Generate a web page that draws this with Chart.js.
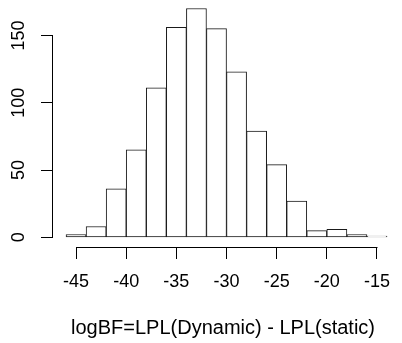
<!DOCTYPE html>
<html lang="en">
<head>
    <meta charset="UTF-8">
    <title>logBF histogram</title>
    <script src="https://cdn.jsdelivr.net/npm/chart.js"></script>
    <style>
        html, body { margin: 0; padding: 0; background: #fff; }
        .chart-container { position: relative; width: 402px; height: 343px; }
    </style>
</head>
<body>
    <div class="chart-container">
        <canvas id="myChart"></canvas>
    </div>

    <script>
        // Histogram bins (left edges, width 2) and counts
        const binStarts = [-46, -44, -42, -40, -38, -36, -34, -32, -30, -28, -26, -24, -22, -20, -18, -16];
        const binWidth = 2;
        const counts = [2, 8, 36, 65, 111, 156, 170, 155, 123, 79, 54, 27, 5, 6, 2, 1];
        const xTicks = [-45, -40, -35, -30, -25, -20, -15];
        const yTicks = [0, 50, 100, 150];
        const xTitle = 'logBF=LPL(Dynamic) - LPL(static)';

        const FONT = "'Liberation Sans', Arial, Helvetica, sans-serif";

        document.addEventListener('DOMContentLoaded', () => {
            const ctx = document.getElementById('myChart').getContext('2d');

            const points = binStarts.map((s, i) => ({ x: s + binWidth / 2, y: counts[i] }));

            // R style axes: lines only span the tick range, y labels rotated
            const rAxes = {
                id: 'rAxes',
                afterDraw(chart) {
                    const c = chart.ctx;
                    const xs = chart.scales.x;
                    const ys = chart.scales.y;
                    const area = chart.chartArea;
                    c.save();
                    c.strokeStyle = '#000';
                    c.lineWidth = 1;
                    c.beginPath();
                    const yLine = Math.round(area.bottom) + 0.5;
                    c.moveTo(Math.round(xs.getPixelForValue(xTicks[0])) + 0.5, yLine);
                    c.lineTo(Math.round(xs.getPixelForValue(xTicks[xTicks.length - 1])) + 0.5, yLine);
                    const xLine = Math.round(area.left) - 0.5;
                    c.moveTo(xLine, Math.round(ys.getPixelForValue(yTicks[0])) + 0.5);
                    c.lineTo(xLine, Math.round(ys.getPixelForValue(yTicks[yTicks.length - 1])) + 0.5);
                    c.stroke();

                    c.fillStyle = '#000';
                    c.font = '18px ' + FONT;
                    c.textAlign = 'center';
                    c.textBaseline = 'middle';
                    yTicks.forEach(v => {
                        c.save();
                        c.translate(19, ys.getPixelForValue(v));
                        c.rotate(-Math.PI / 2);
                        c.fillText(String(v), 0, 0);
                        c.restore();
                    });
                    c.restore();
                }
            };

            const myChart = new Chart(ctx, {
                type: 'bar',
                data: {
                    datasets: [{
                        data: points,
                        backgroundColor: '#ffffff',
                        borderColor: '#1a1a1a',
                        borderWidth: 1,
                        borderSkipped: false,
                        barPercentage: 1,
                        categoryPercentage: 1
                    }]
                },
                options: {
                    responsive: true,
                    maintainAspectRatio: false,
                    animation: false,
                    layout: { padding: 0 },
                    scales: {
                        x: {
                            type: 'linear',
                            offset: false,
                            min: -47.3,
                            max: -13.4,
                            afterBuildTicks: (scale) => {
                                scale.ticks = xTicks.map(v => ({ value: v }));
                            },
                            afterFit: (scale) => { scale.height = 96; },
                            grid: {
                                offset: false,
                                drawOnChartArea: false,
                                drawTicks: true,
                                tickLength: 12,
                                color: '#000',
                                lineWidth: 1
                            },
                            border: { display: false },
                            ticks: {
                                color: '#000',
                                font: { size: 18, family: FONT },
                                padding: 12,
                                maxRotation: 0,
                                autoSkip: false
                            },
                            title: {
                                display: true,
                                text: xTitle,
                                color: '#000',
                                font: { size: 20, family: FONT },
                                padding: { top: 0, bottom: 3 }
                            }
                        },
                        y: {
                            min: -7.2,
                            max: 176.3,
                            afterBuildTicks: (scale) => {
                                scale.ticks = yTicks.map(v => ({ value: v }));
                            },
                            afterFit: (scale) => { scale.width = 53; },
                            grid: {
                                drawOnChartArea: false,
                                drawTicks: true,
                                tickLength: 12,
                                color: '#000',
                                lineWidth: 1
                            },
                            border: { display: false },
                            ticks: { display: false }
                        }
                    },
                    plugins: {
                        legend: { display: false },
                        tooltip: { enabled: false }
                    }
                },
                plugins: [rAxes]
            });
        });
    </script>
</body>
</html>
